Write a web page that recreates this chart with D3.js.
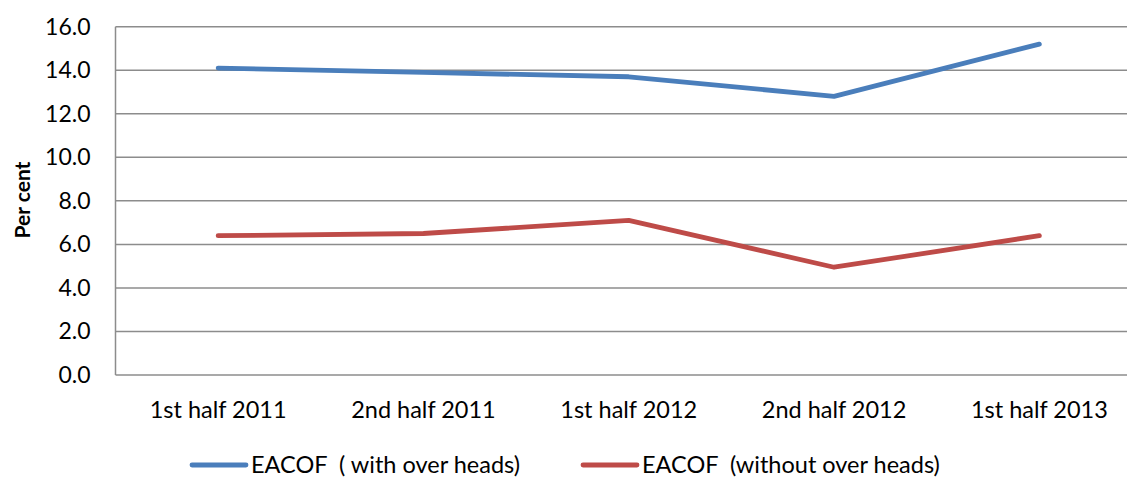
<!DOCTYPE html>
<html>
<head>
<meta charset="utf-8">
<script src="https://cdn.jsdelivr.net/npm/d3@7"></script>
<style>
  html, body { margin: 0; padding: 0; background: #fff; }
  svg { display: block; font-family: Lato, "Open Sans", sans-serif; }
</style>
</head>
<body>
<svg id="chart" width="1127" height="478"></svg>
<script>
// Half-year periods on the x axis
const periods = ["1st half 2011", "2nd half 2011", "1st half 2012", "2nd half 2012", "1st half 2013"];
// EACOF rates, per cent
const withOverheads = [14.1, 13.9, 13.7, 12.8, 15.2];
const withoutOverheads = [6.4, 6.5, 7.1, 4.95, 6.4];
const seriesNames = ["EACOF  ( with over heads)", "EACOF  (without over heads)"];
const yTicks = [0, 2, 4, 6, 8, 10, 12, 14, 16];

const svg = d3.select("#chart");
const plot = { left: 115.5, right: 1142, top: 26.7, bottom: 375 };

const x = d3.scaleBand().domain(periods).range([plot.left, plot.right]);
const y = d3.scaleLinear().domain([0, 16]).range([plot.bottom, plot.top]);

// horizontal gridlines
svg.append("g")
  .selectAll("line")
  .data(yTicks)
  .join("line")
  .attr("x1", plot.left).attr("x2", plot.right)
  .attr("y1", d => y(d)).attr("y2", d => y(d))
  .attr("stroke", "#8c8c8c").attr("stroke-width", 1.5);

// left axis line
svg.append("line")
  .attr("x1", plot.left).attr("x2", plot.left)
  .attr("y1", plot.top).attr("y2", plot.bottom)
  .attr("stroke", "#8c8c8c").attr("stroke-width", 1.5);

// y axis labels
const yAxis = d3.axisLeft(y).tickValues(yTicks).tickFormat(d3.format(".1f")).tickSize(0).tickPadding(25);
svg.append("g")
  .attr("transform", `translate(${plot.left},0)`)
  .call(yAxis)
  .call(g => g.select(".domain").remove())
  .call(g => g.selectAll("text").attr("font-size", 23).attr("fill", "#000").attr("font-family", "Lato, sans-serif"));

// x axis labels
const xAxis = d3.axisBottom(x).tickSize(0);
svg.append("g")
  .attr("transform", `translate(0,${plot.bottom})`)
  .call(xAxis)
  .call(g => g.select(".domain").remove())
  .call(g => g.selectAll("text")
    .attr("y", 43).attr("dy", null)
    .attr("font-size", 23.5).attr("fill", "#000").attr("font-family", "Lato, sans-serif"));

// y axis title
svg.append("text")
  .attr("transform", "translate(30,200) rotate(-90)")
  .attr("text-anchor", "middle")
  .attr("font-size", 21)
  .attr("font-weight", "bold")
  .text("Per cent");

// series lines
const colors = ["#4a7ebb", "#be4b48"];
const data = [withOverheads, withoutOverheads];
const line = d3.line()
  .x((d, i) => x(periods[i]) + x.bandwidth() / 2)
  .y(d => y(d));

svg.append("g")
  .selectAll("path")
  .data(data)
  .join("path")
  .attr("d", line)
  .attr("fill", "none")
  .attr("stroke", (d, i) => colors[i])
  .attr("stroke-width", 4.8)
  .attr("stroke-linecap", "round")
  .attr("stroke-linejoin", "round");

// legend
const legendX = [192, 583];
const legend = svg.append("g")
  .selectAll("g")
  .data(seriesNames)
  .join("g")
  .attr("transform", (d, i) => `translate(${legendX[i]},465)`);
legend.append("line")
  .attr("x1", 0).attr("x2", 54).attr("y1", 0).attr("y2", 0)
  .attr("stroke", (d, i) => colors[i])
  .attr("stroke-width", 4.8)
  .attr("stroke-linecap", "round");
legend.append("text")
  .attr("x", 59)
  .attr("y", 7.5)
  .attr("font-size", 23.5)
  .style("white-space", "pre")
  .text(d => d);
</script>
</body>
</html>
